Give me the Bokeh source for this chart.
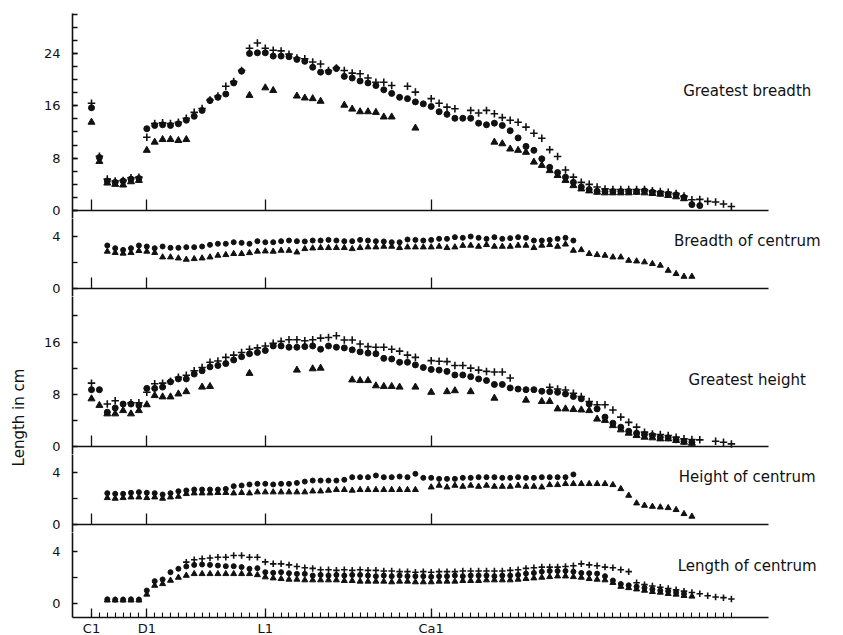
import math
from bokeh.plotting import figure
from bokeh.layouts import column, row
from bokeh.models import Range1d, FixedTicker, Label
from bokeh.embed import file_html
from bokeh.resources import INLINE

# ---------------- data (vertebra number 1..82; None = no measurement) ----------------
vert = list(range(1, 83))
x_tick_pos = [1, 8, 23, 44]
x_tick_lab = ["C1", "D1", "L1", "Ca1"]
N = None

# Greatest breadth
gb_circle = [15.7, 8.1, 4.5, 4.3, 4.5, 4.8, 4.9, 12.5, 13.0, 13.1,
             13.0, 13.25, 13.8, 14.4, 15.3, 16.8, 17.3, 17.8, 19.5, 21.3,
             24.0, 24.1, 24.1, 23.6, 23.6, 23.5, 23.1, 22.8, 21.9, 21.15,
             21.2, 21.7, 20.5, 20.25, 19.8, 19.5, 19.1, 18.45, 17.9, 17.3,
             17.1, 16.6, 16.3, 15.9, 15.1, 14.7, 14.1, 14.1, 14.1, 13.35,
             13.1, 13.35, 13.0, 12.2, 11.1, 9.8, 9.2, 7.9, 6.6, 5.8,
             5.1, 4.3, 3.6, 3.2, 2.95, 2.9, 2.9, 2.9, 2.9, 2.9,
             3.0, 2.8, 2.65, 2.5, 2.4, 2.0, 0.9, 0.75, N, N,
             N, N]
gb_plus = [16.4, 8.3, 4.8, 4.5, 4.6, 5.0, 5.1, 11.2, 13.3, 13.4,
           13.3, 13.5, 14.1, 15.0, 15.6, 16.9, 17.5, 19.0, 19.7, 21.4,
           24.8, 25.6, 24.8, 24.5, 24.4, 23.9, 23.3, 23.2, 22.7, 22.4,
           21.4, 21.8, 21.4, 21.0, 20.9, 20.25, 19.6, 19.6, 19.1, N,
           19.0, 18.1, N, 17.1, 16.4, 15.8, 15.55, N, 15.3, 14.9,
           15.3, 14.8, 14.2, 13.8, 13.5, 12.75, 11.8, 11.05, 9.3, 8.25,
           6.2, 5.1, 4.3, 4.0, 3.6, 3.3, 3.2, 3.2, 3.2, 3.2,
           3.2, 3.0, 2.9, 2.8, 2.6, 2.2, 1.65, 1.7, 1.4, 1.3,
           1.0, 0.6]
gb_tri = [13.5, 7.5, 4.2, 4.0, 3.9, 4.4, 4.6, 9.2, 10.45, 10.85,
          10.85, 10.7, 10.85, N, N, N, N, N, N, N,
          17.6, N, 18.75, 18.35, N, N, 17.5, 17.2, 17.1, 16.7,
          N, N, 16.1, 15.5, 15.1, 15.1, 15.0, 14.3, 14.3, N,
          N, 12.6, N, N, N, N, N, N, N, N,
          N, 10.45, 10.2, 9.4, 9.2, 8.9, 7.4, 6.9, 6.1, 5.35,
          4.6, 3.8, 3.3, 3.0, 2.8, 2.7, 2.7, 2.7, 2.7, 2.8,
          2.7, 2.6, 2.5, 2.3, 2.1, 1.8, N, N, N, N,
          N, N]

# Breadth of centrum
bc_circle = [N, N, 3.31, 3.10, 2.97, 3.10, 3.31, 3.23, 3.10, 3.23,
             3.13, 3.13, 3.18, 3.18, 3.23, 3.36, 3.44, 3.44, 3.56, 3.51,
             3.44, 3.64, 3.56, 3.56, 3.64, 3.69, 3.64, 3.62, 3.69, 3.69,
             3.74, 3.69, 3.64, 3.64, 3.74, 3.69, 3.64, 3.62, 3.56, 3.56,
             3.77, 3.74, 3.69, 3.74, 3.82, 3.82, 3.95, 3.9, 4.0, 3.9,
             3.82, 3.95, 3.82, 3.87, 3.95, 3.9, 3.69, 3.69, 3.74, 3.82,
             3.9, 3.69, N, N, N, N, N, N, N, N,
             N, N, N, N, N, N, N, N, N, N,
             N, N]
bc_tri = [N, N, 2.85, 2.75, 2.7, 2.75, 2.9, 2.85, 2.75, 2.41,
          2.41, 2.33, 2.23, 2.28, 2.33, 2.41, 2.54, 2.59, 2.67, 2.67,
          2.74, 2.85, 2.87, 2.85, 2.92, 2.92, 2.79, 3.05, 3.10, 3.13,
          3.13, 3.13, 3.13, 3.05, 3.13, 3.18, 3.18, 3.23, 3.23, 3.13,
          3.18, 3.18, 3.18, 3.18, 3.23, 3.13, 3.18, 3.3, 3.31, 3.23,
          3.36, 3.23, 3.23, 3.23, 3.31, 3.31, 3.13, 3.31, 3.36, 3.23,
          3.4, 2.92, 2.97, 2.67, 2.59, 2.54, 2.41, 2.41, 2.15, 2.1,
          2.03, 1.9, 1.77, 1.38, 1.13, 0.92, 0.92, N, N, N,
          N, N]

# Greatest height
gh_circle = [8.7, 8.7, 5.25, 5.9, 6.5, 6.5, 6.3, 8.9, 8.9, 9.1,
             9.9, 10.35, 10.35, 11.1, 11.6, 12.2, 12.4, 12.7, 13.25, 13.75,
             14.2, 14.4, 14.7, 15.4, 15.4, 15.2, 15.2, 15.3, 15.4, 14.9,
             15.4, 15.2, 15.1, 14.8, 14.5, 14.3, 14.2, 13.5, 13.4, 12.9,
             12.9, 12.5, 12.1, 11.8, 11.7, 11.5, 10.95, 10.95, 10.7, 10.35,
             10.1, 9.5, 9.5, 8.97, 8.8, 8.7, 8.7, 8.46, 8.4, 8.3,
             8.05, 7.65, 7.3, 6.5, 5.76, 4.5, 3.57, 2.96, 2.35, 2.04,
             1.83, 1.68, 1.43, 1.33, 1.02, 0.8, 0.66, N, N, N,
             N, N]
gh_plus = [9.7, N, 6.5, 7.0, N, 6.7, 6.7, 8.3, 9.6, 9.7,
           10.0, 10.6, 10.9, 11.6, 12.1, 12.9, 13.1, 13.65, 14.0, 14.4,
           14.9, 15.1, 15.4, 15.8, 16.1, 16.35, 16.35, 16.2, 16.35, 16.6,
           16.7, 16.97, 16.3, 16.3, 15.7, 15.3, 15.2, 15.2, 14.9, 14.6,
           14.0, 13.65, N, 13.15, 13.05, 13.0, 12.4, 12.4, 12.0, 11.7,
           11.5, 11.4, 11.4, 10.5, N, N, N, N, 9.07, 8.8,
           8.66, 8.15, 7.65, 6.9, 6.4, 6.4, 5.6, 4.5, 3.7, 2.96,
           2.2, 1.9, 1.83, 1.68, 1.43, 1.17, 1.07, 1.02, N, 0.8,
           0.66, 0.4]
gh_tri = [7.3, 6.3, 5.0, 5.0, 5.5, 5.0, 5.5, 6.4, 7.8, 7.6,
          7.6, 8.05, 8.4, N, 9.1, 9.2, N, N, N, N,
          11.2, N, N, N, N, N, 11.7, N, 11.9, 12.0,
          N, N, N, 10.2, 10.1, 10.1, 9.3, 9.2, 9.2, 9.1,
          N, 9.1, N, 8.3, N, 8.4, 8.55, N, 8.4, N,
          N, 7.4, N, N, N, 7.1, N, 6.9, 6.9, 5.76,
          5.76, 5.66, 5.6, 5.5, 4.2, 4.0, 3.2, 2.55, 2.04, 1.68,
          1.43, 1.33, 1.17, 1.17, 0.92, 0.66, 0.5, N, N, N,
          N, N]

# Height of centrum
hc_circle = [N, N, 2.41, 2.36, 2.36, 2.44, 2.49, 2.44, 2.41, 2.31,
             2.41, 2.56, 2.62, 2.69, 2.69, 2.69, 2.69, 2.74, 2.95, 3.0,
             3.08, 3.13, 3.13, 3.08, 3.13, 3.13, 3.2, 3.3, 3.38, 3.38,
             3.38, 3.38, 3.44, 3.64, 3.64, 3.64, 3.77, 3.64, 3.64, 3.69,
             3.64, 3.9, 3.59, 3.59, 3.51, 3.51, 3.51, 3.59, 3.59, 3.64,
             3.64, 3.64, 3.59, 3.59, 3.64, 3.59, 3.59, 3.64, 3.64, 3.64,
             3.64, 3.85, N, N, N, N, N, N, N, N,
             N, N, N, N, N, N, N, N, N, N,
             N, N]
hc_tri = [N, N, 2.05, 2.0, 2.05, 2.1, 2.1, 2.05, 2.1, 2.0,
          2.1, 2.15, 2.36, 2.41, 2.41, 2.41, 2.44, 2.44, 2.41, 2.44,
          2.41, 2.49, 2.49, 2.49, 2.49, 2.49, 2.49, 2.49, 2.56, 2.56,
          2.62, 2.67, 2.67, 2.62, 2.67, 2.67, 2.67, 2.67, 2.67, 2.67,
          2.67, 2.67, N, 2.87, 3.0, 2.87, 3.0, 2.92, 3.0, 2.92,
          3.0, 2.92, 2.92, 2.92, 3.0, 2.92, 2.92, 2.87, 3.05, 3.05,
          3.13, 3.13, 3.13, 3.13, 3.13, 3.13, 3.05, 2.74, 2.23, 1.64,
          1.46, 1.38, 1.33, 1.28, 1.13, 0.82, 0.62, N, N, N,
          N, N]

# Length of centrum
lc_circle = [N, N, 0.32, 0.3, 0.3, 0.32, 0.3, 1.0, 1.72, 1.85,
             2.41, 2.67, 2.85, 2.97, 3.0, 2.97, 2.92, 2.87, 2.87, 2.8,
             2.67, 2.72, 2.41, 2.36, 2.41, 2.33, 2.28, 2.28, 2.15, 2.2,
             2.15, 2.2, 2.15, 2.2, 2.2, 2.15, 2.1, 2.15, 2.1, 2.15,
             2.1, 2.1, 2.1, 2.05, 2.1, 2.1, 2.15, 2.1, 2.15, 2.15,
             2.15, 2.1, 2.15, 2.15, 2.2, 2.3, 2.35, 2.45, 2.5, 2.5,
             2.5, 2.45, 2.35, 2.33, 2.3, 2.1, 1.77, 1.5, 1.4, 1.3,
             1.2, 1.1, 1.0, 0.95, 0.85, 0.75, N, N, N, N,
             N, N]
lc_plus = [N, N, N, N, N, N, N, N, N, N,
           N, N, 3.18, 3.36, 3.44, 3.5, 3.56, 3.56, 3.69, 3.69,
           3.56, 3.56, 3.2, 3.05, 3.05, 2.97, 2.85, 2.75, 2.7, 2.6,
           2.6, 2.55, 2.6, 2.55, 2.6, 2.55, 2.55, 2.5, 2.5, 2.45,
           2.45, 2.4, 2.45, 2.4, 2.45, 2.45, 2.45, 2.5, 2.5, 2.5,
           2.5, 2.5, 2.5, 2.55, 2.6, 2.7, 2.75, 2.8, 2.8, 2.8,
           2.85, 2.9, 3.05, 2.97, 2.9, 2.8, 2.75, 2.6, 2.45, 1.6,
           1.45, 1.35, 1.25, 1.15, 1.05, 0.95, 0.85, 0.75, 0.6, 0.5,
           0.45, 0.35]
lc_tri = [N, N, 0.25, 0.25, 0.25, 0.25, 0.25, 0.7, 1.38, 1.51,
          1.77, 2.0, 2.15, 2.28, 2.28, 2.28, 2.28, 2.28, 2.28, 2.28,
          2.28, 2.2, 2.03, 1.95, 1.9, 1.85, 1.85, 1.8, 1.8, 1.8,
          1.8, 1.8, 1.75, 1.75, 1.7, 1.7, 1.7, 1.7, 1.65, 1.7,
          1.7, 1.65, 1.65, 1.65, 1.7, 1.7, 1.7, 1.75, 1.75, 1.75,
          1.8, 1.8, 1.8, 1.8, 1.85, 1.9, 1.95, 2.0, 2.05, 2.1,
          2.1, 2.05, 2.0, 1.9, 1.85, 1.8, 1.6, 1.3, 1.2, 1.1,
          1.0, 0.9, 0.85, 0.75, 0.7, 0.6, 0.55, N, N, N,
          N, N]

titles = ["Greatest breadth", "Breadth of centrum", "Greatest height",
          "Height of centrum", "Length of centrum"]
y_label = "Length in cm"

# ---------------- layout ----------------
FONT = "DejaVu Sans"
PX_PER_V = 7.9
X0 = -1.405                    # left frame edge (vertical axis)
FRAME_W = 763                  # frame reaches the right-hand titles
X1 = X0 + FRAME_W / PX_PER_V
X_AXIS_END = 86.7              # the horizontal axis lines stop here
LAB_W, LEFT = 30, 42
INK = "#111111"


def pts(arr):
    xs = [v for v, y in zip(vert, arr) if y is not None]
    ys = [y for y in arr if y is not None]
    return xs, ys


def panel(frame_h, yr, major, minor, title, title_y, series, msize, top=0, last=False):
    p = figure(frame_width=FRAME_W, frame_height=frame_h,
               x_range=Range1d(X0, X1), y_range=Range1d(*yr),
               output_backend="svg", toolbar_location=None,
               min_border_left=LEFT, min_border_right=0,
               min_border_top=top, min_border_bottom=0)
    p.grid.visible = False
    p.outline_line_color = None
    p.background_fill_color = "white"
    p.border_fill_color = "white"

    ya = p.yaxis[0]
    ya.ticker = FixedTicker(ticks=major, minor_ticks=minor)
    ya.axis_line_width = 1.6
    ya.axis_line_color = INK
    ya.major_tick_in, ya.major_tick_out = 5, 0
    ya.minor_tick_in, ya.minor_tick_out = 5, 0
    ya.major_tick_line_color = INK
    ya.minor_tick_line_color = INK
    ya.major_tick_line_width = 1.3
    ya.minor_tick_line_width = 1.3
    ya.major_label_text_font = FONT
    ya.major_label_text_font_size = "13px"
    ya.major_label_text_color = INK
    ya.major_label_standoff = 12

    xa = p.xaxis[0]
    xa.bounds = (X0, X_AXIS_END)
    xa.axis_line_width = 1.6
    xa.axis_line_color = INK
    xa.major_tick_line_color = INK
    xa.minor_tick_line_color = INK
    xa.major_tick_line_width = 1.3
    xa.minor_tick_line_width = 1.1
    if last:
        xa.ticker = FixedTicker(ticks=x_tick_pos, minor_ticks=vert)
        xa.major_tick_in, xa.major_tick_out = 9, 0
        xa.minor_tick_in, xa.minor_tick_out = 5, 0
        xa.major_label_overrides = {t: s for t, s in zip(x_tick_pos, x_tick_lab)}
        xa.major_label_text_font = FONT
        xa.major_label_text_font_size = "13px"
        xa.major_label_text_color = INK
        xa.major_label_standoff = 3
    else:
        xa.fixed_location = 0
        xa.ticker = FixedTicker(ticks=x_tick_pos, minor_ticks=[])
        xa.major_tick_in, xa.major_tick_out = 11, 0
        xa.minor_tick_in, xa.minor_tick_out = 0, 0
        xa.major_label_text_font_size = "1px"
        xa.major_label_text_color = None
        xa.major_label_standoff = 0

    for arr, marker in series:
        xs, ys = pts(arr)
        if marker == "circle":
            p.scatter(xs, ys, marker="circle", size=msize, color=INK)
        elif marker == "triangle":
            p.scatter(xs, ys, marker="triangle", size=msize + 1, color=INK)
        else:
            p.scatter(xs, ys, marker="cross", size=msize + 1.5,
                      line_color=INK, line_width=1.6)

    p.add_layout(Label(x=84.0, y=title_y, text=title, text_align="center",
                       text_baseline="middle", text_font=FONT,
                       text_font_size="15px", text_color=INK))
    return p


# frames: each panel ends 8px below its zero line (last panel: 14px)
p1 = panel(205, (-8 / 6.542, 197 / 6.542), [0, 8, 16, 24], list(range(0, 31, 2)),
           titles[0], 18.3,
           [(gb_tri, "triangle"), (gb_circle, "circle"), (gb_plus, "cross")], 6, top=13)
p2 = panel(78, (-8 / 13, 70 / 13), [0, 4], [2], titles[1], 3.69,
           [(bc_tri, "triangle"), (bc_circle, "circle")], 5)
p3 = panel(158, (-8 / 6.53, 150 / 6.53), [0, 8, 16], [4, 12, 20], titles[2], 10.26,
           [(gh_tri, "triangle"), (gh_circle, "circle"), (gh_plus, "cross")], 6)
p4 = panel(78, (-8 / 13, 70 / 13), [0, 4], [2], titles[3], 3.69,
           [(hc_tri, "triangle"), (hc_circle, "circle")], 5)
p5 = panel(85, (-14 / 13, 71 / 13), [0, 4], [2], titles[4], 2.92,
           [(lc_tri, "triangle"), (lc_circle, "circle"), (lc_plus, "cross")], 5, last=True)

H_TOTAL = 634
lab = figure(frame_width=LAB_W, frame_height=H_TOTAL, x_range=Range1d(0, LAB_W),
             y_range=Range1d(0, H_TOTAL), output_backend="svg", toolbar_location=None,
             x_axis_location=None, y_axis_location=None, min_border=0)
lab.grid.visible = False
lab.outline_line_color = None
lab.add_layout(Label(x=18, y=H_TOTAL - 417, text=y_label, angle=math.pi / 2,
                     text_align="center", text_baseline="middle", text_font=FONT,
                     text_font_size="15px", text_color=INK))

layout = row(lab, column(p1, p2, p3, p4, p5, spacing=0), spacing=0)
open("out.html", "w").write(file_html(layout, INLINE))
